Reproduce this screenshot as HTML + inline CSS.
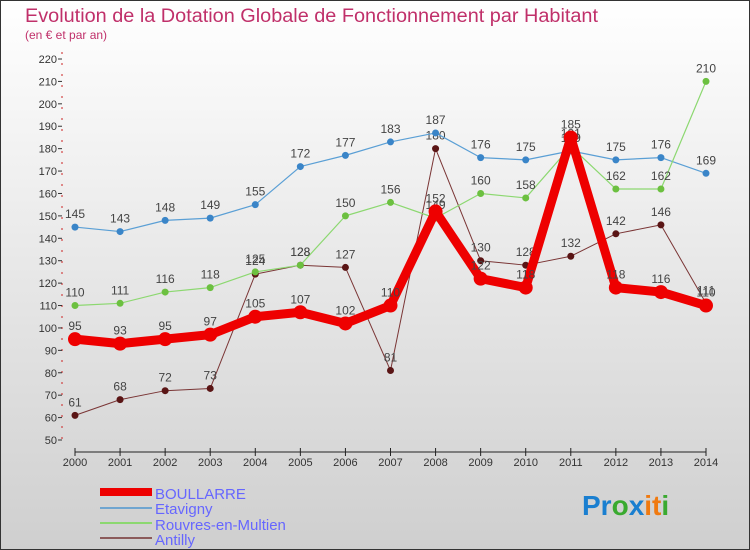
<!DOCTYPE html>
<html><head><meta charset="utf-8"><style>
body{margin:0}
svg{display:block;font-family:"Liberation Sans",sans-serif}
</style></head><body>
<svg id="c" width="750" height="550" viewBox="0 0 750 550">
<defs><linearGradient id="bg" x1="0" y1="0" x2="0" y2="1"><stop offset="0" stop-color="#ffffff"/><stop offset="1" stop-color="#cfcfcf"/></linearGradient></defs>
<rect x="0.5" y="0.5" width="749" height="549" fill="url(#bg)" stroke="#333"/>
<text x="25" y="22" font-size="19" textLength="573" lengthAdjust="spacingAndGlyphs" fill="#c0306a">Evolution de la Dotation Globale de Fonctionnement par Habitant</text>
<text x="25" y="39" font-size="12" fill="#c0306a">(en € et par an)</text>
<g id="grid"></g><g id="axes"></g><g id="series"></g>
<g>
<rect x="100" y="488" width="52" height="8" fill="#ee0000"/>
<text x="155" y="499" font-size="15" fill="#6666ff">BOULLARRE</text>
<rect x="100" y="507" width="52" height="2" fill="#6fa5d0"/>
<text x="155" y="514" font-size="15" fill="#6666ff">Etavigny</text>
<rect x="100" y="522" width="52" height="2" fill="#8cd870"/>
<text x="155" y="530" font-size="15" fill="#6666ff">Rouvres-en-Multien</text>
<rect x="100" y="537" width="52" height="2" fill="#8b5a5a"/>
<text x="155" y="545" font-size="15" fill="#6666ff">Antilly</text>
</g>
<text x="582" y="515" font-size="28" font-weight="bold"><tspan fill="#1a7fd0">Pr</tspan><tspan fill="#3aaa30">o</tspan><tspan fill="#1a7fd0">x</tspan><tspan fill="#f07a10">it</tspan><tspan fill="#3aaa30">i</tspan></text>
</svg>
<script>
const years=[2000,2001,2002,2003,2004,2005,2006,2007,2008,2009,2010,2011,2012,2013,2014];
const boullarre=[95,93,95,97,105,107,102,110,152,122,118,185,118,116,110];
const etavigny=[145,143,148,149,155,172,177,183,187,176,175,179,175,176,169];
const rouvres=[110,111,116,118,125,128,150,156,149,160,158,181,162,162,210];
const antilly=[61,68,72,73,124,128,127,81,180,130,128,132,142,146,111];
const yTicks=[50,60,70,80,90,100,110,120,130,140,150,160,170,180,190,200,210,220];
const NS='http://www.w3.org/2000/svg';
const x=i=>75+i*(706-75)/14;
const y=v=>440-(v-50)*(440-59)/170;
function mk(t,a,p){const e=document.createElementNS(NS,t);for(const k in a)e.setAttribute(k,a[k]);p.appendChild(e);return e;}
const axes=document.getElementById('axes');
const ax=mk('line',{x1:75,y1:452,x2:706,y2:452,stroke:'#222','stroke-width':1},axes);


const ay=mk('line',{x1:62,y1:52,x2:62,y2:445,stroke:'#cc2222','stroke-width':1,'stroke-dasharray':'2,9'},axes);


years.forEach((yr,i)=>{
 const t=mk('line',{x1:x(i),y1:448,x2:x(i),y2:456,stroke:'#222'},axes);
 
 
 const l=mk('text',{x:x(i),y:466,'font-size':11,fill:'#333','text-anchor':'middle'},axes);
 l.textContent=yr;
 
 
});
yTicks.forEach(v=>{
 const l=mk('text',{x:57,y:y(v)+4,'font-size':11,fill:'#333','text-anchor':'end'},axes);
 l.textContent=v;
 
 
 const t=mk('line',{x1:58,y1:y(v),x2:62,y2:y(v),stroke:'#333'},axes);
 
 
});
const S=document.getElementById('series');
function draw(vals,name,col,w,r,pc){
 const g=mk('g',{},S);
 
 
 const pl=mk('polyline',{points:vals.map((v,i)=>x(i)+','+y(v)).join(' '),fill:'none',stroke:col,'stroke-width':w,'stroke-linejoin':'round'},g);
 
 
 vals.forEach((v,i)=>{
  const c=mk('circle',{cx:x(i),cy:y(v),r:r,fill:pc},g);
  
  
  const t=mk('text',{x:x(i),y:y(v)-9,'font-size':12,fill:'#444','text-anchor':'middle'},g);
  t.textContent=v;
  
  
 });
}
draw(antilly,'antilly','#7a3535',1,3.5,'#5a1515');
draw(etavigny,'etavigny','#5a9fd5',1.2,3.5,'#3a85c8');
draw(rouvres,'rouvres','#8cd870',1.2,3.5,'#6cc040');
draw(boullarre,'boullarre','#ee0000',9,7,'#ee0000');
</script>
</body></html>
